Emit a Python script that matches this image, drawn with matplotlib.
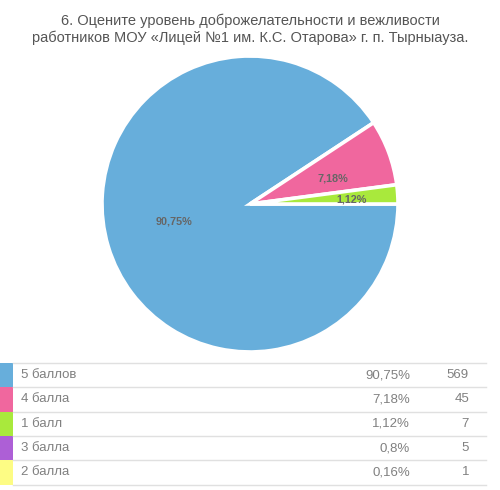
import matplotlib
matplotlib.use("Agg")
import matplotlib.pyplot as plt
from matplotlib.patches import Rectangle
import numpy as np

plt.rcParams['font.family'] = ['Liberation Sans', 'DejaVu Sans']

title = "6. Оцените уровень доброжелательности и вежливости\nработников МОУ «Лицей №1 им. К.С. Отарова» г. п. Тырныауза."
labels = ["5 баллов", "4 балла", "1 балл", "3 балла", "2 балла"]
percents = [90.75, 7.18, 1.12, 0.8, 0.16]
counts = [569, 45, 7, 5, 1]
colors = ["#67aedb", "#f0679e", "#a9e93c", "#ad5fd6", "#fdfc84"]

def fmt(p):
    return f"{p:g}".replace(".", ",") + "%"

fig = plt.figure(figsize=(5.0, 4.9), dpi=100)
fig.patch.set_facecolor("white")

fig.text(0.5, 1 - 29/490, title, ha="center", va="center", fontsize=10.5,
         color="#555555", linespacing=1.2)

# slices under 1% are not drawn separately in the source; the last visible slice takes the rest
shown = [i for i, p in enumerate(percents) if p >= 1]
sizes = [percents[i] for i in shown]
sizes[-1] += sum(p for p in percents if p < 1)

ax = fig.add_axes([100/500, 136/490, 300/500, 300/490])
ax.pie(sizes, colors=[colors[i] for i in shown],
       startangle=0, counterclock=False, radius=148/150,
       wedgeprops=dict(edgecolor="white", linewidth=2.6))
ax.set_xlim(-1, 1)
ax.set_ylim(-1, 1)
ax.set_aspect("equal")
ax.axis("off")

label_r = [0.52, 0.58, 0.68]
label_shift = [3.5, 3.5, 1.0]
ang = 0.0
for k, i in enumerate(shown):
    span = sizes[k] / sum(sizes) * 360
    mid = np.deg2rad(ang - span / 2 - label_shift[k])
    ax.text(label_r[k] * np.cos(mid), label_r[k] * np.sin(mid), fmt(percents[i]),
            ha="center", va="center", fontsize=7.8, fontweight="bold", color="#666666")
    ang -= span

# legend table
lx = fig.add_axes([0, 0, 1, 1])
lx.set_xlim(0, 500)
lx.set_ylim(490, 0)
lx.axis("off")
top = 363
row_h = 24.3
lx.plot([13, 486], [top, top], color="#e0e0e0", lw=1)
for k, (lab, p, c, col) in enumerate(zip(labels, percents, counts, colors)):
    y0 = top + k * row_h
    yc = y0 + row_h / 2
    lx.add_patch(Rectangle((0, y0), 12.5, row_h, facecolor=col, edgecolor="none"))
    lx.plot([13, 486], [y0 + row_h, y0 + row_h], color="#e0e0e0", lw=1)
    lx.text(21, yc, lab, ha="left", va="center", fontsize=9.5, color="#808080")
    lx.text(410, yc, fmt(p), ha="right", va="center", fontsize=9.5, color="#808080")
    lx.text(469, yc, str(c), ha="right", va="center", fontsize=9.5, color="#808080")

fig.savefig("out.png", dpi=100)
